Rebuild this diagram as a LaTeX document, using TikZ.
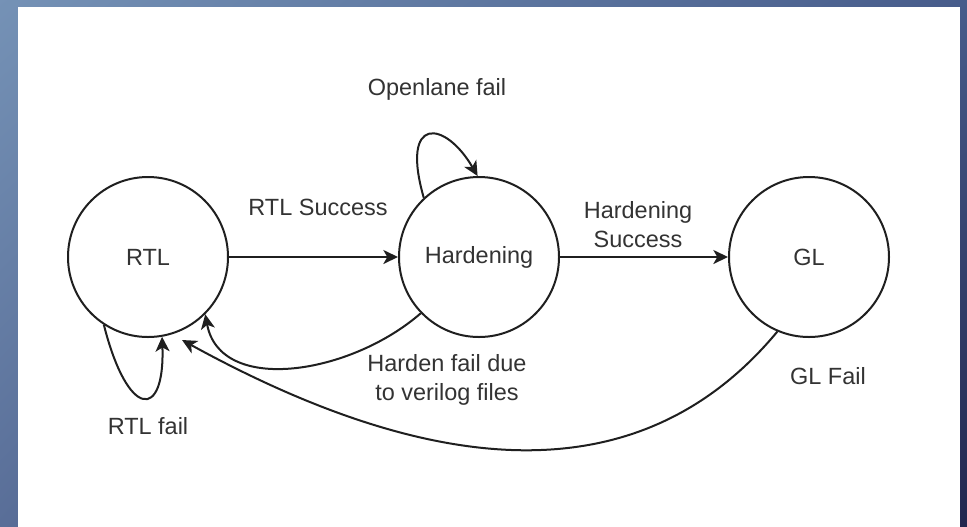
\documentclass[tikz,border=0pt]{standalone}
\usepackage{fontspec}
\setmainfont{Liberation Sans}
\usetikzlibrary{arrows.meta,shadings}
\definecolor{ink}{HTML}{333333}
\definecolor{edgec}{HTML}{1F1F1F}
\definecolor{bgUL}{HTML}{7592B6}
\definecolor{bgUR}{HTML}{475C8B}
\definecolor{bgLL}{HTML}{596E98}
\definecolor{bgLR}{HTML}{22264E}
\begin{document}
\begin{tikzpicture}[x=0.75pt,y=-0.75pt,
  state/.style={circle, draw=edgec, line width=1.5pt, minimum size=120pt,
    inner sep=0pt, text=ink, font=\fontsize{17.6}{21.75}\selectfont},
  lbl/.style={text=ink, inner sep=0pt, align=center,
    font=\fontsize{17.6}{21.75}\selectfont},
  flow/.style={draw=edgec, line width=1.5pt,
    -{Stealth[length=11pt,width=10.5pt,inset=3pt]}}]
\useasboundingbox (0,0) rectangle (967,526);
% framed white sheet on a gradient backdrop
\shade[upper left=bgUL, upper right=bgUR, lower left=bgLL, lower right=bgLR]
  (-2,-2) rectangle (969,528);
\fill[white] (18,7) rectangle (960,530);

% states
\node[state] (rtl)  at (148,257) {RTL};
\node[state] (hard) at (479,257) {Hardening};
\node[state] (gl)   at (809,257) {GL};

% end point of the long return edge, a little off the RTL circle
\path (rtl.center) ++(-67.7:67.3pt) coordinate (glhit);

% transitions
\draw[flow] (rtl) -- (hard);
\draw[flow] (hard) -- (gl);
\draw[flow] (hard.133.5) .. controls (400,115) and (445,120) .. (hard.91);
\draw[flow] (rtl.237) .. controls (128,420) and (165,420) .. (rtl.280);
\draw[flow] (hard.224.5) .. controls (350,375) and (220,395) .. (rtl.-45);
\draw[flow] (gl.247) .. controls (650,485) and (455,490) .. (glhit);

% transition labels
\node[lbl, anchor=base] (lopen) at (437,95) {Openlane fail};
\node[lbl, anchor=base] (lrtls) at (318,215) {RTL Success};
\node[lbl] (lhard) at (638,225) {Hardening\\Success};
\node[lbl] (lhfail) at (447,380) {Harden fail due\\to verilog files};
\node[lbl, anchor=base] (lglf) at (828,384) {GL Fail};
\node[lbl, anchor=base] (lrtlf) at (148,434) {RTL fail};
\end{tikzpicture}
\end{document}
